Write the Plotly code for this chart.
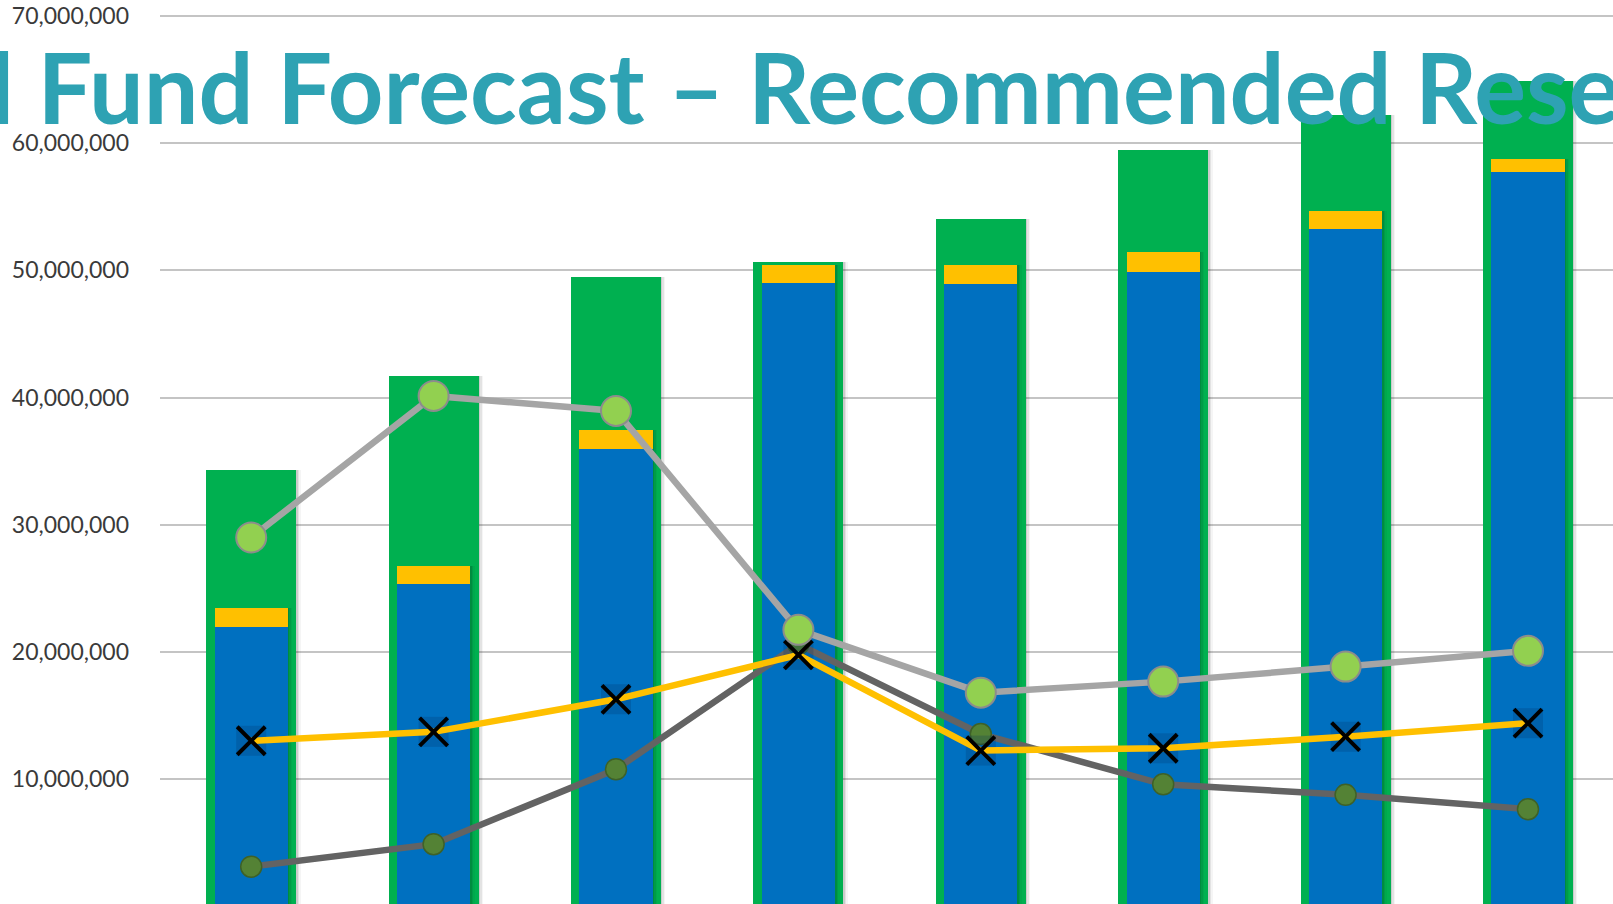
import plotly.graph_objects as go

# Forecast years (x axis runs below the visible area)
years = ["FY2016", "FY2017", "FY2018", "FY2019", "FY2020", "FY2021", "FY2022", "FY2023"]

# Stacked columns, in millions
fund_balance = [34.32, 41.67, 49.47, 50.64, 54.05, 59.46, 62.22, 64.92]
operating = [22.00, 25.35, 35.94, 49.04, 48.93, 49.90, 53.26, 57.74]
contingency = [1.49, 1.42, 1.52, 1.39, 1.50, 1.53, 1.44, 1.00]

# Line series, in millions
unassigned = [29.00, 40.13, 38.95, 21.74, 16.80, 17.67, 18.85, 20.09]
recommended = [13.02, 13.72, 16.28, 19.77, 12.25, 12.43, 13.34, 14.40]
minimum = [3.12, 4.89, 10.78, 20.60, 13.55, 9.60, 8.77, 7.64]

title_text = "General Fund Forecast – Recommended Reserve"

M = 1_000_000
scale = lambda vals: [v * M for v in vals]

GREEN = "#00B050"
BLUE = "#0070C0"
GOLD = "#FFC000"
LIGHT_GRAY = "#A5A5A5"
DARK_GRAY = "#636363"

WIDE = 0.493
NARROW = 0.402
PX = 1 / 182.4          # one pixel in category units

fig = go.Figure()


def add_shadow(values, width):
    # soft drop shadow: a few translucent strips nudged to the right
    for k, alpha in ((1.5, 0.10), (3.0, 0.07), (4.5, 0.04)):
        fig.add_trace(go.Bar(
            x=years, y=scale(values), width=width,
            offset=-width / 2 + k * PX,
            marker=dict(color=f"rgba(0,0,0,{alpha})", line=dict(width=0)),
            hoverinfo="skip", showlegend=False,
        ))


add_shadow(fund_balance, WIDE)
# wide total column
fig.add_trace(go.Bar(
    x=years, y=scale(fund_balance), width=WIDE, name="Fund Balance",
    marker=dict(color=GREEN, line=dict(width=0)),
))
add_shadow([a + b for a, b in zip(operating, contingency)], NARROW)
# narrow stacked column: operating + contingency cap
fig.add_trace(go.Bar(
    x=years, y=scale(operating), width=NARROW, name="Operating Reserve",
    marker=dict(color=BLUE, line=dict(width=0)),
))
fig.add_trace(go.Bar(
    x=years, y=scale(contingency), base=scale(operating), width=NARROW,
    name="Contingency", marker=dict(color=GOLD, line=dict(width=0)),
))

# lines
fig.add_trace(go.Scatter(
    x=years, y=scale(minimum), mode="lines+markers", name="Minimum Reserve",
    line=dict(color=DARK_GRAY, width=6.5),
    marker=dict(symbol="circle", size=21, color="#548235",
                line=dict(color="#3E6128", width=1.5)),
))
fig.add_trace(go.Scatter(
    x=years, y=scale(recommended), mode="markers", name="Recommended box",
    marker=dict(symbol="square", size=30, color="rgba(0,45,95,0.22)",
                line=dict(width=0)),
    hoverinfo="skip", showlegend=False,
))
fig.add_trace(go.Scatter(
    x=years, y=scale(recommended), mode="lines+markers", name="Recommended Reserve",
    line=dict(color=GOLD, width=6.5),
    marker=dict(symbol="x-thin", size=28, color="black",
                line=dict(color="black", width=4)),
))
fig.add_trace(go.Scatter(
    x=years, y=scale(unassigned), mode="lines+markers", name="Unassigned Balance",
    line=dict(color=LIGHT_GRAY, width=6.5),
    marker=dict(symbol="circle", size=30, color="#92D050",
                line=dict(color="#8C8C8C", width=2)),
))

fig.add_annotation(
    text=title_text, xref="paper", yref="paper",
    x=-0.3338, y=0.987, xanchor="left", yanchor="top", showarrow=False,
    font=dict(family="Lato", size=97, color="#2EA2B3", weight="bold"),
)

fig.update_layout(
    width=1613, height=904,
    margin=dict(l=160, r=0, t=14, b=0),
    paper_bgcolor="white", plot_bgcolor="white",
    barmode="overlay", bargap=0,
    showlegend=False,
    font=dict(family="Lato", size=22, color="#404040"),
)
fig.update_xaxes(
    range=[-0.5, 7.466], showticklabels=False, showgrid=False,
    zeroline=False, showline=False, ticks="",
)
fig.update_yaxes(
    range=[0.187 * M, 70.157 * M], dtick=10 * M, tick0=0,
    tickformat=",", showgrid=True, gridcolor="#C4C4C4", gridwidth=1.5,
    zeroline=False, showline=False, ticks="", ticklabelstandoff=30,
    tickfont=dict(family="Lato", size=23, color="#3A3A3A"),
)

fig.write_html("out.html")
